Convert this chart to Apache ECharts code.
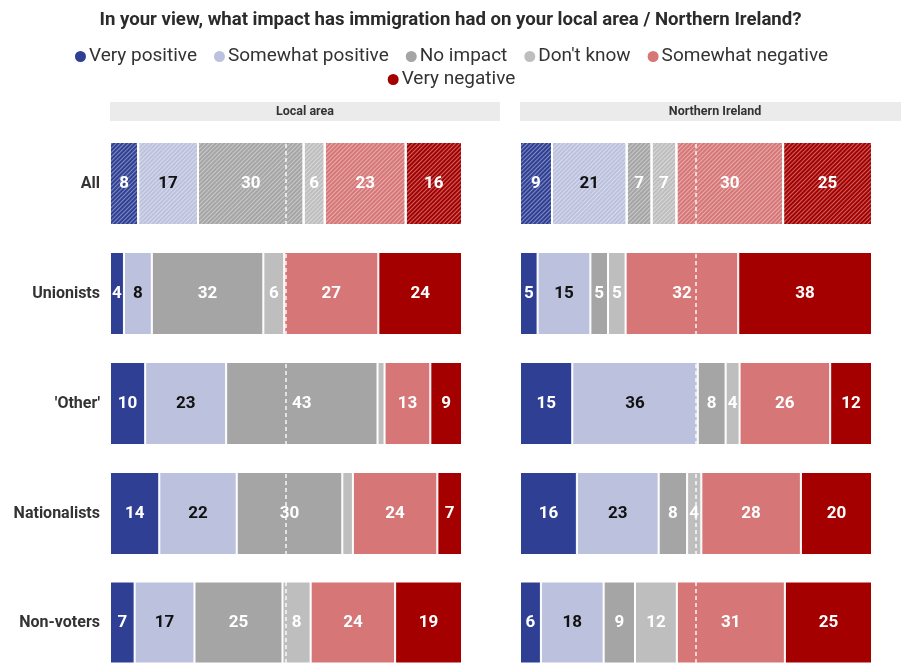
<!DOCTYPE html>
<html>
<head>
<meta charset="utf-8">
<script src="https://cdn.jsdelivr.net/npm/echarts@6/dist/echarts.min.js"></script>
<style>
  html, body { margin: 0; padding: 0; background: #ffffff; }
  #chart { width: 901px; height: 663px; }
</style>
</head>
<body>
<div id="chart"></div>
<script>
// Survey responses (%), one row per group, one column per answer
const groups = ['All', 'Unionists', "'Other'", 'Nationalists', 'Non-voters'];
const answers = ['Very positive', 'Somewhat positive', 'No impact', "Don't know", 'Somewhat negative', 'Very negative'];
const colors = ['#2e3f94', '#bcc2de', '#a5a5a5', '#bebebe', '#d67676', '#a40000'];
const labelColors = ['#ffffff', '#111111', '#ffffff', '#ffffff', '#ffffff', '#ffffff'];

const localArea = [
  [8, 17, 30, 6, 23, 16],
  [4, 8, 32, 6, 27, 24],
  [10, 23, 43, 2, 13, 9],
  [14, 22, 30, 3, 24, 7],
  [7, 17, 25, 8, 24, 19]
];
const northernIreland = [
  [9, 21, 7, 7, 30, 25],
  [5, 15, 5, 5, 32, 38],
  [15, 36, 8, 4, 26, 12],
  [16, 23, 8, 4, 28, 20],
  [6, 18, 9, 12, 31, 25]
];
const panelTitles = ['Local area', 'Northern Ireland'];

const FONT = 'Roboto, "Liberation Sans", sans-serif';
const panels = [
  { data: localArea, left: 110, headerWidth: 390 },
  { data: northernIreland, left: 520, headerWidth: 390 }
];
const barWidthPx = 352;
const rowTop = 142;
const rowPitch = 110;
const rowHeight = 83;

// Diagonal "////" hatching for the overall (All) rows
const hatch = {
  symbol: 'rect', symbolSize: 1, dashArrayX: [1, 0], dashArrayY: [1, 2],
  rotation: -Math.PI / 4, color: 'rgba(255,255,255,0.4)'
};

const grids = [], xAxes = [], yAxes = [], plainSeries = [], hatchedSeries = [];

panels.forEach((panel, p) => {
  panel.data.forEach((row, r) => {
    const idx = grids.length;
    const total = row.reduce((a, b) => a + b, 0);
    grids.push({ left: panel.left, top: rowTop + r * rowPitch, width: barWidthPx, height: rowHeight });
    xAxes.push({ gridIndex: idx, type: 'value', min: 0, max: total, show: false });
    yAxes.push({
      gridIndex: idx, type: 'category', data: [groups[r]],
      axisLine: { show: false }, axisTick: { show: false },
      axisLabel: {
        show: p === 0, fontFamily: FONT, fontWeight: 'bold', fontSize: 16,
        color: '#333333', margin: 10
      }
    });
    const hatched = r === 0;
    row.forEach((v, a) => {
      const itemStyle = { color: colors[a], borderColor: '#ffffff', borderWidth: 1 };
      if (hatched) itemStyle.decal = hatch;
      const s = {
        name: answers[a], type: 'bar', stack: 'row' + idx,
        xAxisIndex: idx, yAxisIndex: idx,
        barWidth: rowHeight,
        data: [v],
        itemStyle: itemStyle,
        label: {
          show: v >= 4, position: 'inside', formatter: String(v),
          fontFamily: FONT, fontWeight: 'bold', fontSize: 17, color: labelColors[a]
        },
        emphasis: { disabled: true },
        animation: false
      };
      if (a === row.length - 1) {
        s.markLine = {
          silent: true, symbol: 'none', label: { show: false },
          lineStyle: { color: '#ffffff', type: [4, 3], width: 1.5, opacity: 0.9 },
          data: [{ xAxis: total / 2 }],
          animation: false
        };
      }
      (hatched ? hatchedSeries : plainSeries).push(s);
    });
  });
});

// Gray panel headers
const graphics = [];
panels.forEach((panel, p) => {
  graphics.push({
    type: 'rect', left: panel.left, top: 102,
    shape: { width: panel.headerWidth, height: 19 },
    style: { fill: '#ebebeb' }, silent: true
  });
  graphics.push({
    type: 'text', x: panel.left + panel.headerWidth / 2, y: 111.5,
    style: {
      text: panelTitles[p], fill: '#333333', font: 'bold 12.5px ' + FONT,
      align: 'center', verticalAlign: 'middle'
    }, silent: true
  });
});

const legendBase = {
  left: 'center', icon: 'circle', itemWidth: 13, itemHeight: 13, itemGap: 15,
  textStyle: { fontFamily: FONT, fontSize: 19, color: '#333333', padding: [0, 0, 0, -3] },
  selectedMode: false
};

const chart = echarts.init(document.getElementById('chart'), null, { renderer: 'canvas' });
chart.setOption({
  backgroundColor: '#ffffff',
  animation: false,
  title: {
    text: 'In your view, what impact has immigration had on your local area / Northern Ireland?',
    left: 'center', top: 6,
    textStyle: { fontFamily: FONT, fontWeight: 'bold', fontSize: 18.6, color: '#2b2b2b' }
  },
  legend: [
    Object.assign({}, legendBase, { top: 42, data: answers.slice(0, 5) }),
    Object.assign({}, legendBase, { top: 65, data: answers.slice(5) })
  ],
  graphic: graphics,
  grid: grids,
  xAxis: xAxes,
  yAxis: yAxes,
  series: plainSeries.concat(hatchedSeries)
});
</script>
</body>
</html>
